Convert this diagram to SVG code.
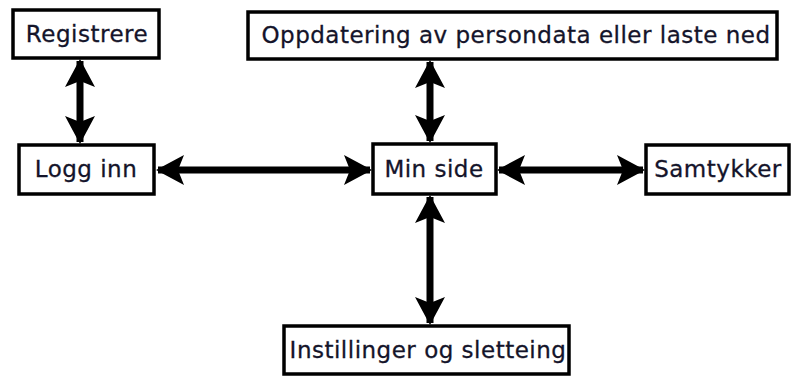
<svg xmlns="http://www.w3.org/2000/svg" width="795" height="377" viewBox="0 0 795 377">
  <defs>
    <marker id="head" viewBox="0 0 28 30" refX="26" refY="15" markerWidth="28" markerHeight="30" markerUnits="userSpaceOnUse" orient="auto-start-reverse">
      <path d="M0,0 L28,15 L0,30 L6,15 Z" fill="#000"/>
    </marker>
  </defs>
  <style>
    .box { fill: #fff; stroke: #000; stroke-width: 3.5; }
    .lbl { font-family: "DejaVu Sans", "Noto Sans", sans-serif; font-size: 23px; letter-spacing: 0.5px; fill: #14142a; stroke: #14142a; stroke-width: 0.3; text-anchor: middle; dominant-baseline: central; }
    .link { stroke: #000; stroke-width: 7; fill: none; marker-start: url(#head); marker-end: url(#head); }
  </style>
  <rect width="795" height="377" fill="#fff"/>

  <g id="connectors">
    <line class="link" x1="80" y1="61" x2="80" y2="142"/>
    <line class="link" x1="430" y1="62" x2="430" y2="141"/>
    <line class="link" x1="158" y1="170" x2="370" y2="170"/>
    <line class="link" x1="499" y1="170" x2="643" y2="170"/>
    <line class="link" x1="430" y1="197" x2="430" y2="323"/>
  </g>

  <g id="registrere">
    <rect class="box" x="13" y="10" width="146" height="48"/>
    <text class="lbl" x="87" y="34">Registrere</text>
  </g>
  <g id="oppdatering">
    <rect class="box" x="248" y="12" width="529" height="47"/>
    <text class="lbl" x="516" y="35">Oppdatering av persondata eller laste ned</text>
  </g>
  <g id="logg-inn">
    <rect class="box" x="19" y="145" width="135" height="49"/>
    <text class="lbl" x="86" y="169">Logg inn</text>
  </g>
  <g id="min-side">
    <rect class="box" x="373" y="144" width="123" height="50"/>
    <text class="lbl" x="434" y="169">Min side</text>
  </g>
  <g id="samtykker">
    <rect class="box" x="646" y="145" width="143" height="49"/>
    <text class="lbl" x="718" y="169">Samtykker</text>
  </g>
  <g id="instillinger">
    <rect class="box" x="284" y="326" width="285" height="48"/>
    <text class="lbl" x="428" y="350">Instillinger og sletteing</text>
  </g>
</svg>
